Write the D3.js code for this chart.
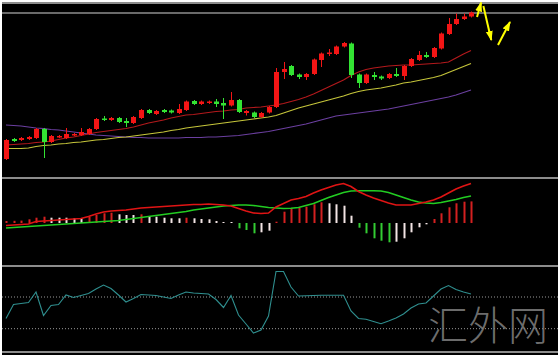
<!DOCTYPE html>
<html><head><meta charset="utf-8">
<script src="https://cdn.jsdelivr.net/npm/d3@7"></script>
<style>html,body{margin:0;padding:0;background:#fff;overflow:hidden;} svg{display:block;}</style>
</head><body>
<svg id="c" width="558" height="355"></svg>
<script>
// ---- candle data (price units) ----
const opens  = [19,39,38,39,40,49,36,41,40,43,43,44,49,59.5,58,60,57,55,60,68,64,68,67.5,65,68,77,74,75,76.5,75,72.5,78,65,65.5,61,65.5,71,106,112,103.5,101,104,118,124.5,124,131.5,134.5,103.5,95,103,101.5,100,104,102,112,118,123,121,129.5,144,154,159,161.5];
const highs  = [39,40,41,42,50,50,43,43,50,45,50,50,60,62,61,61,60,62,69,69,68,69,68.5,74,77.5,78,77.5,77.5,79,80,86,79,68,66.5,66,72,110,116,113,104.5,105,119.5,125.5,129,132.5,136,135.5,104.5,104.5,106,102.5,105,110,113,120,127,126,131,145.5,160,164.5,164.5,166.5];
const lows   = [18,36,37,38,39,20,35,40,39,42,42,43,48,57,57,55,51,54,59,64,63,65,64.5,64,67,73,73,74,71,59,71.5,65,62.5,60,60,64.5,70,99,102,99,98,103,111,122,123,130.5,100,90,94,98,98,99,101,98,111,117,120,120,128.5,143,153,158,160.5];
const closes = [38,37,40,41,49,36,42,42,44,44,46,49,59,58,60,56,55,61,68,65,67,66,65.5,69,76.5,74,76.5,76.5,74,72.5,78,66,67,61,65,71,106,109,103,101,104,118.5,124.5,125.5,131.5,135,103,95,103.5,101,99.5,104,102,112,119,123,121,130,144.5,154,159,161.5,165.5];

// ---- moving averages ----
const maRed    = [33,33.5,34,34.5,35.5,36,37,38.5,40,41,42.5,44,45.5,46.5,47.5,48.5,49.5,51,53,55,56.5,58,60,61.5,63,63.5,64.5,65.5,66.5,67,68,68.5,70,70.5,71,72,73,74.5,76.5,78.5,81,84,87.5,91,94.5,98,102.5,106,108.5,110,111,112,112.5,113,113,113.5,114,114.5,115,116,120,124,127.5];
const maYellow = [29.5,29.5,29.5,30,31.5,32.5,33,34,34.5,35.5,36,37,38,38.5,39.5,40.5,41,42,43,44,45,46,47.5,48.5,50,51,52,53,54,55,56,57,58,59,60,61,62.5,65,67.5,70,72,74,76,78,80,82,84.5,86.5,88,89,90,91.5,93,95,96,97.5,99,100.5,102.5,105.5,108.5,111.5,114.5];
const maPurple = [53,52.5,52,51,50,49.5,48.5,48,47,46,45,44,43,42.5,42,41.5,41,40.5,40.5,40,40,40,40,40,40.5,40.5,40.5,41,41,41.5,42,42.5,43.5,44.5,45.5,46.5,48,49.5,51,52.5,54,56,58,60,62,63,64,65,66,67,68,69,70.5,72,73.5,75,76.5,78,79.5,81,83,85.5,88];

// ---- MACD panel ----
const macdHist   = [2,2.2,2.4,3.7,5.3,6.3,5.3,5.3,5.3,4.7,4.7,6.3,8,9.7,10.3,8.7,8,8,8.7,7,6.3,5.3,4.7,4.7,5.3,4.7,4,3.7,2,0.7,0.2,-5.3,-7,-10.3,-9.3,-7.7,1.3,11.3,14.7,15.3,16.3,18.7,20.7,19.7,18.7,17.3,7.3,-4.7,-10.3,-15.3,-17.7,-19.3,-18.7,-15.3,-9.3,-4.3,-1.3,4,9.7,15.7,19.7,21.3,21.6];
const macdLine   = [-2.5,-2,-1.5,-1,1.5,2,2.5,3,3.5,4,4.5,6.5,9,11,12,12.5,13,14,15,15.5,16,16.5,17,17.5,18,18.5,18.5,19,18.5,18,17,14.5,12,10,9.5,10,16,19.5,23,24.5,26.5,30,33,35.5,38,39.5,36.5,31.5,28,25,22.5,20,18,18,18,19.5,21,23,26,30,34,37,39.5];
const macdSignal = [-5,-4.5,-4,-3.5,-3,-2.5,-2,-1.5,-1,-0.5,0,0.5,1,1.5,2,2.5,3.5,4.5,5.5,6.5,7.5,8.5,9.5,10.5,11.5,13,14,15,16,17,17.5,18,18,17.5,16.5,15.5,15,14.5,14.7,15.5,17.5,19.5,22.5,25.5,28,30.5,32,32.3,32.3,32.2,32,30.5,28,25.5,23,21,20,19.5,20.5,22,23.5,25.5,27];

// ---- oscillator panel ----
const osc = [33.5,47.5,48.5,49.5,60,36.5,46.5,47.5,57,54.5,56.5,58.5,63,67,63.5,57,50,53.5,57.5,57,56.5,55,53.5,57,60,59,58.5,58,52.5,44.5,56.5,37,28,19,22,36,80.5,80.5,65,56,56.2,56.5,56.7,56.7,56.7,56.7,41,33.5,32.7,30.5,28.3,31,34,38,44,48,49,56,63,66.5,62.5,60,58];
const oscLevels = [55, 23.3];

// ---- annotations ----
const hLinePrice = 165;
const arrows = [
  {i1: 62.8, p1: 161, i2: 63.35, p2: 175.5},
  {i1: 63.65, p1: 172, i2: 64.7, p2: 138},
  {i1: 65.6, p1: 133, i2: 67.2, p2: 156}
];
const watermark = "汇外网";

// ---- drawing ----
const W = 558, H = 355;
const svg = d3.select("#c");
const idx = d3.range(opens.length);

const x = d3.scaleLinear().domain([0, 62]).range([6, 471]);
const yMain = d3.scaleLinear().domain([0, 175]).range([178, 3]);
const yMacd = d3.scaleLinear().domain([-40, 40]).range([263, 183]);
const yOsc = d3.scaleLinear().domain([0, 86]).range([352, 266]);

svg.append("rect").attr("x", 2).attr("y", 2).attr("width", W - 2).attr("height", H - 2).attr("fill", "#000");

const defs = svg.append("defs");
defs.append("clipPath").attr("id", "cm").append("rect").attr("x", 2).attr("y", 2).attr("width", W).attr("height", 175);
defs.append("clipPath").attr("id", "cd").append("rect").attr("x", 2).attr("y", 180).attr("width", W).attr("height", 85);
defs.append("clipPath").attr("id", "co").append("rect").attr("x", 2).attr("y", 267).attr("width", W).attr("height", 84);
defs.append("marker").attr("id", "ah").attr("markerUnits", "userSpaceOnUse")
  .attr("viewBox", "0 -4 10 8").attr("refX", 9).attr("refY", 0)
  .attr("markerWidth", 10).attr("markerHeight", 8).attr("orient", "auto")
  .append("path").attr("d", "M0,-3.5L10,0L0,3.5Z").attr("fill", "#ffff00");

// panel separators
const sepColor = "#8c8c8c";
[3, 178, 266, 352].forEach(v => {
  svg.append("line").attr("x1", 2).attr("x2", W).attr("y1", v).attr("y2", v)
    .attr("stroke", sepColor).attr("stroke-width", 2);
});

// main panel
const gm = svg.append("g").attr("clip-path", "url(#cm)");
gm.append("line").attr("x1", 2).attr("x2", W).attr("y1", yMain(hLinePrice)).attr("y2", yMain(hLinePrice))
  .attr("stroke", "#6a6a6a").attr("stroke-width", 2);

const lineMain = arr => d3.line().x((d, i) => x(i)).y(d => yMain(d))(arr);
gm.append("path").attr("d", lineMain(maPurple)).attr("fill", "none").attr("stroke", "#6b3fa0").attr("stroke-width", 1.2);
gm.append("path").attr("d", lineMain(maYellow)).attr("fill", "none").attr("stroke", "#c4c43a").attr("stroke-width", 1.2);
gm.append("path").attr("d", lineMain(maRed)).attr("fill", "none").attr("stroke", "#b3191c").attr("stroke-width", 1.2);

const upC = "#f31515", dnC = "#33e333";
const cg = gm.append("g");
idx.forEach(i => {
  const c = closes[i] >= opens[i] ? upC : dnC;
  const cx = Math.round(x(i)) + 0.5;
  cg.append("line").attr("x1", cx).attr("x2", cx).attr("y1", yMain(highs[i])).attr("y2", yMain(lows[i]))
    .attr("stroke", c).attr("stroke-width", 1);
  const top = yMain(Math.max(opens[i], closes[i]));
  const bot = yMain(Math.min(opens[i], closes[i]));
  cg.append("rect").attr("x", cx - 2.5).attr("y", top).attr("width", 5).attr("height", Math.max(1.5, bot - top))
    .attr("fill", c);
});

arrows.forEach(a => {
  svg.append("line").attr("x1", x(a.i1)).attr("y1", yMain(a.p1)).attr("x2", x(a.i2)).attr("y2", yMain(a.p2))
    .attr("stroke", "#ffff00").attr("stroke-width", 2).attr("marker-end", "url(#ah)");
});

// MACD panel
const gd = svg.append("g").attr("clip-path", "url(#cd)");
idx.forEach(i => {
  const v = macdHist[i];
  const prev = i > 0 ? macdHist[i - 1] : -Infinity;
  let col;
  if (v >= 0) col = v > prev ? "#d42020" : "#f2e4e4";
  else col = v < prev ? "#33cc33" : "#f2e4e4";
  const y0 = yMacd(0), y1 = yMacd(v);
  const h = Math.max(1, Math.abs(y1 - y0));
  gd.append("rect").attr("x", Math.round(x(i)) - 0.5).attr("y", v >= 0 ? y0 - h : y0)
    .attr("width", 2).attr("height", h).attr("fill", col);
});
const lineMacd = arr => d3.line().x((d, i) => x(i)).y(d => yMacd(d))(arr);
gd.append("path").attr("d", lineMacd(macdSignal)).attr("fill", "none").attr("stroke", "#22cc22").attr("stroke-width", 1.6);
gd.append("path").attr("d", lineMacd(macdLine)).attr("fill", "none").attr("stroke", "#e01414").attr("stroke-width", 1.6);

// oscillator panel
const go = svg.append("g").attr("clip-path", "url(#co)");
oscLevels.forEach(l => {
  go.append("line").attr("x1", 2).attr("x2", W).attr("y1", yOsc(l)).attr("y2", yOsc(l))
    .attr("stroke", "#9a9a9a").attr("stroke-width", 1).attr("stroke-dasharray", "1,2");
});
go.append("path").attr("d", d3.line().x((d, i) => x(i)).y(d => yOsc(d))(osc))
  .attr("fill", "none").attr("stroke", "#2f8f8f").attr("stroke-width", 1.1);

// watermark
svg.append("text").attr("x", 428).attr("y", 340).text(watermark)
  .attr("font-family", "'Noto Sans CJK SC', sans-serif").attr("font-weight", 300)
  .attr("font-size", 40).attr("fill", "#7c7c7c").attr("fill-opacity", 0.9);
</script>
</body></html>
